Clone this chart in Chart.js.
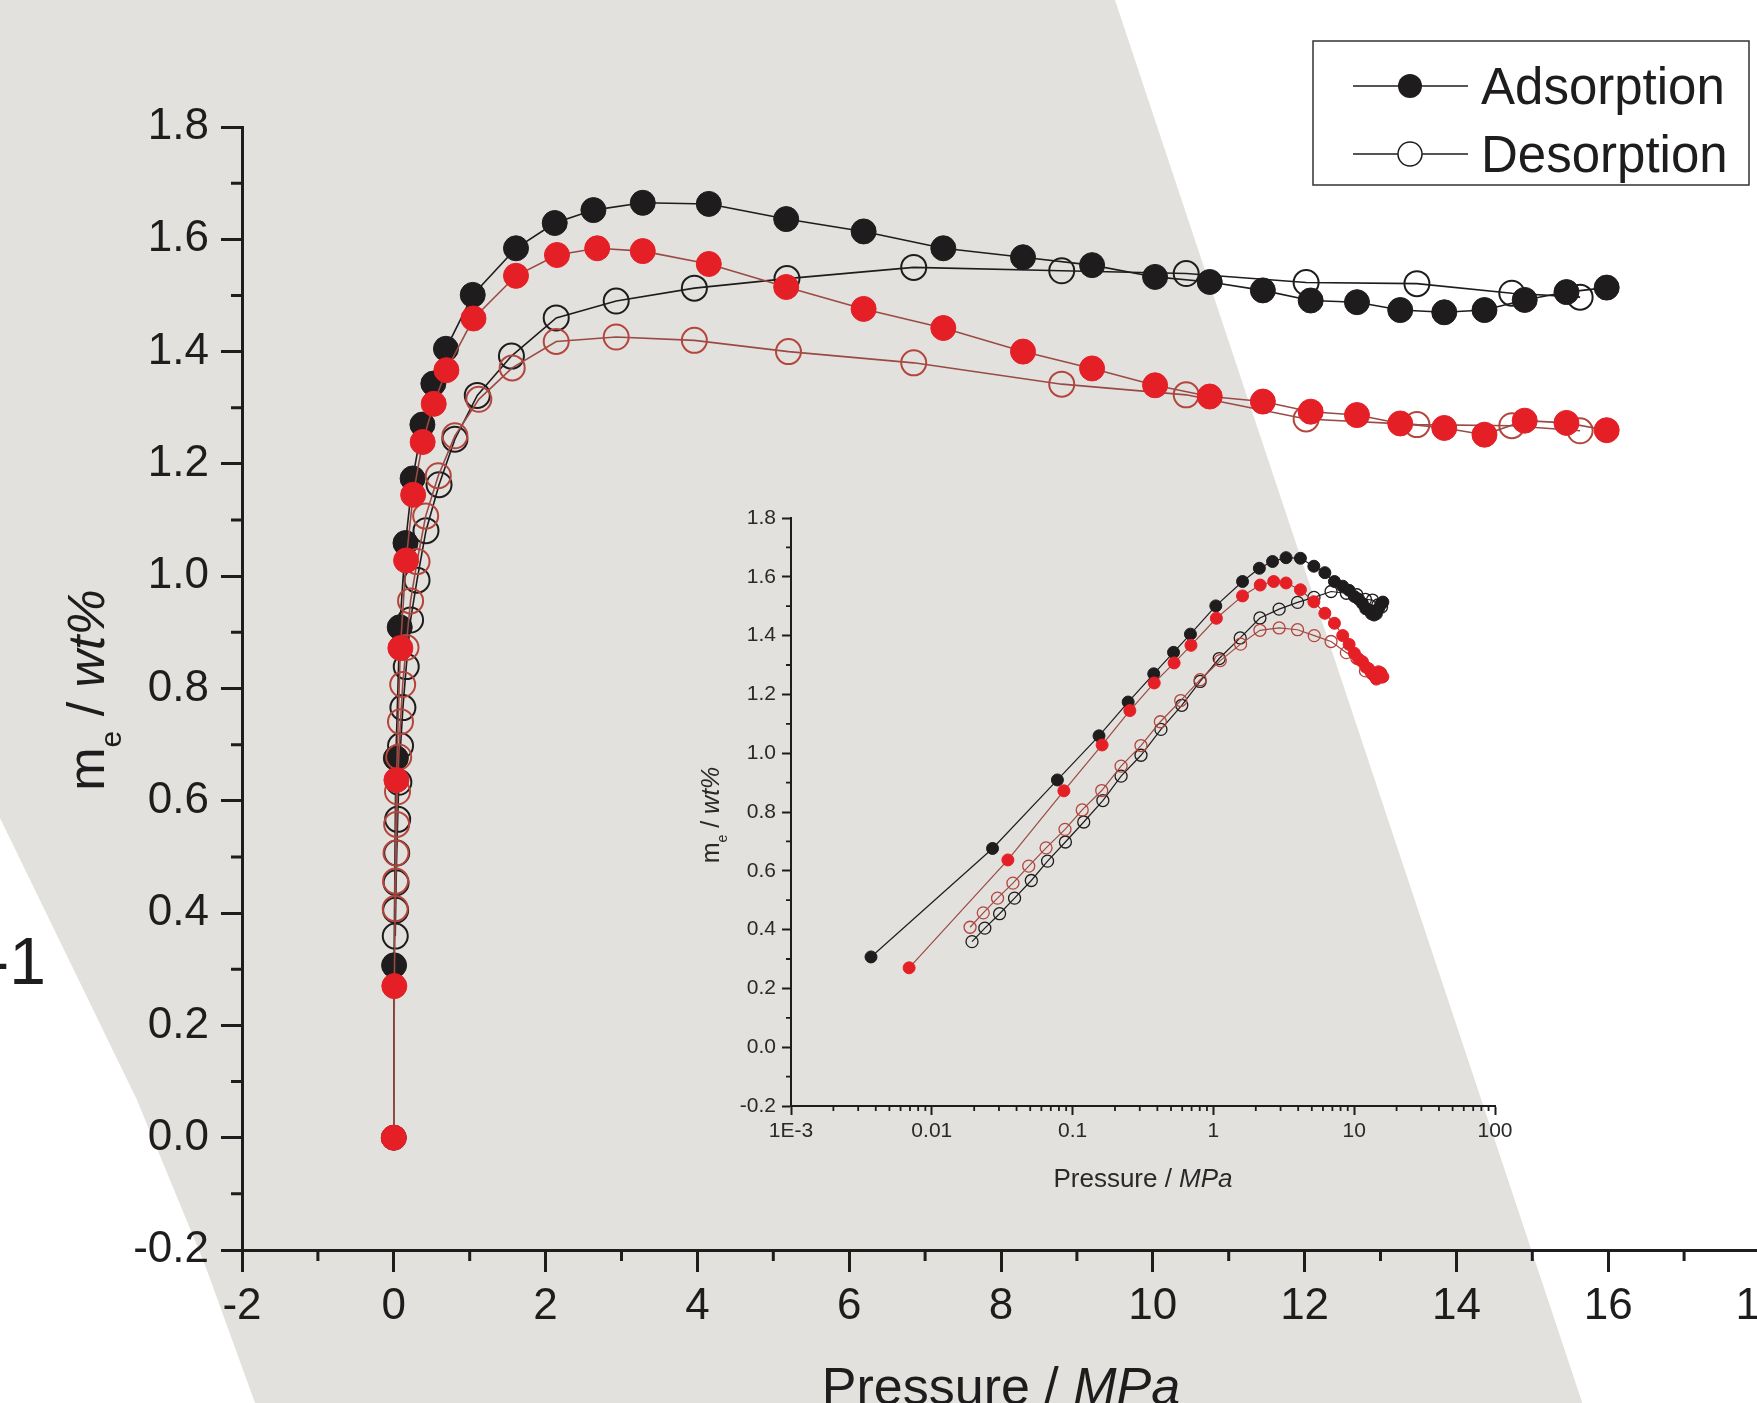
<!DOCTYPE html>
<html lang="en">

<head>
  <meta charset="UTF-8" />
  <title>Adsorption / Desorption</title>
  <script src="https://cdn.jsdelivr.net/npm/chart.js"></script>
  <style>
    html,
    body {
      margin: 0;
      padding: 0;
      overflow: hidden;
      background: #fff;
    }

    body {
      width: 1757px;
      height: 1403px;
      position: relative;
    }

    #mainBox {
      position: absolute;
      left: 0;
      top: 0;
    }

    #insetBox {
      position: absolute;
      left: 640px;
      top: 490px;
    }
  </style>
</head>

<body>
  <div id="mainBox"><canvas id="myChart01" width="1800" height="1450"></canvas></div>
  <div id="insetBox"><canvas id="myChart02" width="900" height="720"></canvas></div>

  <script>
    // ---- data (pressure in MPa, uptake m_e in wt%) ----
    // sample 1 (black)
    const ads1P = [0, 0.0037, 0.027, 0.078, 0.154, 0.248, 0.377, 0.521, 0.687, 1.04, 1.61, 2.12, 2.63, 3.28, 4.15,
      5.17, 6.19, 7.24, 8.29, 9.2, 10.03, 10.75, 11.45, 12.08, 12.69, 13.26, 13.84, 14.37, 14.9, 15.45, 15.98];
    const ads1M = [0, 0.307, 0.676, 0.909, 1.059, 1.174, 1.27, 1.343, 1.405, 1.501, 1.584, 1.629, 1.652, 1.665, 1.663,
      1.636, 1.614, 1.584, 1.568, 1.554, 1.533, 1.524, 1.509, 1.491, 1.488, 1.474, 1.47, 1.474, 1.492, 1.506, 1.514];
    const des1P = [15.63, 14.73, 13.48, 12.02, 10.44, 8.8, 6.85, 5.18, 3.96, 2.93, 2.14, 1.55, 1.1, 0.805, 0.596,
      0.424, 0.306, 0.221, 0.164, 0.12, 0.0889, 0.0664, 0.0509, 0.0387, 0.0303, 0.0238, 0.0193];
    const des1M = [1.497, 1.504, 1.521, 1.523, 1.539, 1.544, 1.55, 1.53, 1.513, 1.49, 1.46, 1.392, 1.322, 1.244, 1.163,
      1.081, 0.993, 0.922, 0.839, 0.766, 0.698, 0.633, 0.567, 0.507, 0.454, 0.405, 0.359];

    // sample 2 (red)
    const ads2P = [0, 0.0069, 0.0347, 0.0867, 0.162, 0.255, 0.38, 0.526, 0.693, 1.05, 1.61, 2.15, 2.68, 3.28, 4.15,
      5.17, 6.19, 7.24, 8.29, 9.2, 10.03, 10.75, 11.45, 12.08, 12.69, 13.26, 13.84, 14.37, 14.9, 15.45, 15.98];
    const ads2M = [0, 0.27, 0.637, 0.872, 1.028, 1.145, 1.239, 1.307, 1.367, 1.459, 1.535, 1.572, 1.584, 1.579, 1.556,
      1.515, 1.476, 1.442, 1.4, 1.37, 1.34, 1.32, 1.311, 1.293, 1.287, 1.272, 1.264, 1.252, 1.277, 1.273, 1.26];
    const des2P = [15.63, 14.73, 13.48, 12.02, 10.44, 8.8, 6.85, 5.2, 3.96, 2.93, 2.14, 1.56, 1.12, 0.805, 0.586,
      0.42, 0.306, 0.221, 0.161, 0.117, 0.0883, 0.0648, 0.0488, 0.0377, 0.0293, 0.0232, 0.0187];
    const des2M = [1.259, 1.268, 1.27, 1.28, 1.323, 1.342, 1.38, 1.4, 1.42, 1.426, 1.418, 1.371, 1.315, 1.25, 1.179,
      1.107, 1.026, 0.956, 0.873, 0.807, 0.741, 0.678, 0.616, 0.558, 0.507, 0.457, 0.408];

    // ---- ticks ----
    const mainXMinor = [-1, 1, 3, 5, 7, 9, 11, 13, 15, 17];
    const mainYMinor = [-0.1, 0.1, 0.3, 0.5, 0.7, 0.9, 1.1, 1.3, 1.5, 1.7];
    const insetXTicks = [0.001, 0.01, 0.1, 1, 10, 100];
    const insetXLabels = ["1E-3", "0.01", "0.1", "1", "10", "100"];
    const insetYMinor = mainYMinor;
    const legendLabels = ["Adsorption", "Desorption"];

    // log minor ticks 2..9 in every decade
    var insetXMinor = [];
    for (let k = 0; k < insetXTicks.length - 1; k++) {
      for (let m = 2; m <= 9; m++) insetXMinor.push(insetXTicks[k] * m);
    }

    const FONT = "'Liberation Sans', Arial, Helvetica, sans-serif";
    const INK = "#1e1c1d";
    const RED = "#e51f26";
    const RED_LINE = "#9a4a44";
    const RED_RING = "#b4453d";
    const PAPER = "#e3e1dd";

    function pts(P, M) {
      return P.map((p, i) => ({ x: p, y: M[i] }));
    }

    function buildDatasets(r, lineW, ringW, logOnly) {
      const keep = (d) => (logOnly ? d.filter((p) => p.x > 0) : d);
      return [
        { label: "Adsorption 2", data: keep(pts(ads2P, ads2M)), borderColor: RED_LINE, pointBackgroundColor: RED, pointBorderColor: RED, pointBorderWidth: 1, order: 0 },
        { label: "Desorption 2", data: keep(pts(des2P, des2M)), borderColor: RED_LINE, pointBackgroundColor: "rgba(0,0,0,0)", pointBorderColor: RED_RING, pointBorderWidth: ringW, order: 1 },
        { label: "Adsorption 1", data: keep(pts(ads1P, ads1M)), borderColor: INK, pointBackgroundColor: INK, pointBorderColor: INK, pointBorderWidth: 1, order: 2 },
        { label: "Desorption 1", data: keep(pts(des1P, des1M)), borderColor: INK, pointBackgroundColor: "rgba(0,0,0,0)", pointBorderColor: INK, pointBorderWidth: ringW, order: 3 },
      ].map((d) =>
        Object.assign({ showLine: true, tension: 0, fill: false, borderWidth: lineW, pointRadius: r, pointHoverRadius: r, backgroundColor: "rgba(0,0,0,0)" }, d)
      );
    }

    // text with italic / subscript parts, centred on x
    function drawRich(ctx, parts, x, y, size) {
      const fontOf = (p) => (p[1] === "italic" ? "italic " : "") + Math.round(p[1] === "sub" ? size * 0.58 : size) + "px " + FONT;
      let total = 0;
      parts.forEach((p) => {
        ctx.font = fontOf(p);
        total += ctx.measureText(p[0]).width;
      });
      let cx = x - total / 2;
      ctx.textAlign = "left";
      ctx.textBaseline = "alphabetic";
      parts.forEach((p) => {
        ctx.font = fontOf(p);
        ctx.fillText(p[0], cx, y + (p[1] === "sub" ? size * 0.33 : 0));
        cx += ctx.measureText(p[0]).width;
      });
    }

    const yTitleParts = [["m", ""], ["e", "sub"], [" / ", ""], ["wt%", "italic"]];
    const xTitleParts = [["Pressure / ", ""], ["MPa", "italic"]];

    // short ticks between the labelled ones
    const minorTicks = {
      id: "minorTicks",
      afterDraw(chart, args, opts) {
        const ctx = chart.ctx;
        const xs = chart.scales.x;
        const ys = chart.scales.y;
        ctx.save();
        ctx.strokeStyle = opts.color;
        ctx.lineWidth = opts.width;
        ctx.beginPath();
        opts.x.forEach((v) => {
          const px = xs.getPixelForValue(v);
          ctx.moveTo(px, xs.top);
          ctx.lineTo(px, xs.top + opts.len);
        });
        opts.y.forEach((v) => {
          const py = ys.getPixelForValue(v);
          ctx.moveTo(ys.right, py);
          ctx.lineTo(ys.right - opts.len, py);
        });
        ctx.stroke();
        ctx.restore();
      },
    };

    // grey paper band behind the main plot
    const paperBg = {
      id: "paperBg",
      beforeDraw(chart) {
        const ctx = chart.ctx;
        ctx.save();
        ctx.fillStyle = "#fff";
        ctx.fillRect(0, 0, chart.width, chart.height);
        ctx.fillStyle = PAPER;
        ctx.beginPath();
        ctx.moveTo(0, 0);
        ctx.lineTo(1115, 0);
        ctx.lineTo(1598, 1450);
        ctx.lineTo(272, 1450);
        ctx.lineTo(255, 1403);
        ctx.lineTo(205, 1265);
        ctx.lineTo(137, 1100);
        ctx.lineTo(0, 818);
        ctx.closePath();
        ctx.fill();
        ctx.restore();
      },
    };

    // titles, legend box and the stray "-1" of the neighbour panel
    const mainDecor = {
      id: "mainDecor",
      afterDraw(chart) {
        const ctx = chart.ctx;
        ctx.save();
        ctx.fillStyle = INK;

        ctx.font = "66px " + FONT;
        ctx.textAlign = "right";
        ctx.textBaseline = "alphabetic";
        ctx.fillText("-1", 46, 984);

        drawRich(ctx, xTitleParts, 1001, 1404, 52);

        ctx.save();
        ctx.translate(104, 690);
        ctx.rotate(-Math.PI / 2);
        drawRich(ctx, yTitleParts, 0, 0, 52);
        ctx.restore();

        // legend
        ctx.fillStyle = "#fff";
        ctx.fillRect(1313, 41, 436, 144);
        ctx.strokeStyle = "#333";
        ctx.lineWidth = 1.5;
        ctx.strokeRect(1313, 41, 436, 144);
        const rows = [86, 154];
        rows.forEach((ry, i) => {
          ctx.strokeStyle = INK;
          ctx.lineWidth = 1.5;
          ctx.beginPath();
          ctx.moveTo(1353, ry);
          ctx.lineTo(1468, ry);
          ctx.stroke();
          ctx.beginPath();
          ctx.arc(1410, ry, 12, 0, Math.PI * 2);
          if (i === 0) {
            ctx.fillStyle = INK;
            ctx.fill();
          } else {
            ctx.fillStyle = "#fff";
            ctx.fill();
            ctx.stroke();
          }
          ctx.fillStyle = INK;
          ctx.font = "51px " + FONT;
          ctx.textAlign = "left";
          ctx.textBaseline = "alphabetic";
          ctx.fillText(legendLabels[i], 1481, ry + 18);
        });
        ctx.restore();
      },
    };

    const insetDecor = {
      id: "insetDecor",
      afterDraw(chart) {
        const ctx = chart.ctx;
        ctx.save();
        ctx.fillStyle = "#2a2829";
        drawRich(ctx, xTitleParts, 503, 697, 26);
        ctx.translate(79, 325);
        ctx.rotate(-Math.PI / 2);
        drawRich(ctx, yTitleParts, 0, 0, 25);
        ctx.restore();
      },
    };

    var mychart01;
    var mychart02;

    function setChart01() {
      const ctx01 = document.getElementById("myChart01");
      mychart01 = new Chart(ctx01, {
        type: "scatter",
        data: { datasets: buildDatasets(12.5, 1.6, 2, false) },
        plugins: [paperBg, minorTicks, mainDecor],
        options: {
          responsive: false,
          animation: false,
          layout: { padding: { left: 0, top: 127, right: 40, bottom: 0 } },
          plugins: {
            legend: { display: false },
            tooltip: { enabled: false },
            minorTicks: { x: mainXMinor, y: mainYMinor, len: 11, width: 3, color: INK },
          },
          scales: {
            x: {
              type: "linear",
              min: -2,
              max: 18,
              afterFit: (s) => { s.height = 200; },
              border: { color: INK, width: 3 },
              grid: { drawOnChartArea: false, tickLength: 22, tickWidth: 3, tickColor: INK },
              ticks: { stepSize: 2, padding: 8, color: INK, font: { family: FONT, size: 44 }, callback: (v) => String(v) },
            },
            y: {
              min: -0.2,
              max: 1.8,
              afterFit: (s) => { s.width = 242; },
              border: { color: INK, width: 3 },
              grid: { drawOnChartArea: false, tickLength: 21, tickWidth: 3, tickColor: INK },
              ticks: { stepSize: 0.2, padding: 12, color: INK, font: { family: FONT, size: 44 }, callback: (v) => Number(v).toFixed(1) },
            },
          },
        },
      });
    }

    function setChart02() {
      const ctx02 = document.getElementById("myChart02");
      mychart02 = new Chart(ctx02, {
        type: "scatter",
        data: { datasets: buildDatasets(6, 1.2, 1.3, true) },
        plugins: [minorTicks, insetDecor],
        options: {
          responsive: false,
          animation: false,
          layout: { padding: { left: 0, top: 28, right: 45, bottom: 0 } },
          plugins: {
            legend: { display: false },
            tooltip: { enabled: false },
            minorTicks: { x: insetXMinor, y: insetYMinor, len: 5, width: 1.8, color: INK },
          },
          scales: {
            x: {
              type: "logarithmic",
              min: 0.001,
              max: 100,
              afterFit: (s) => { s.height = 104; },
              afterBuildTicks: (s) => { s.ticks = insetXTicks.map((v) => ({ value: v })); },
              border: { color: INK, width: 2 },
              grid: { drawOnChartArea: false, tickLength: 9, tickWidth: 2, tickColor: INK },
              ticks: { autoSkip: false, maxRotation: 0, padding: 4, color: "#2a2829", font: { family: FONT, size: 21 }, callback: (v, i) => insetXLabels[i] },
            },
            y: {
              min: -0.2,
              max: 1.8,
              afterFit: (s) => { s.width = 151; },
              border: { color: INK, width: 2 },
              grid: { drawOnChartArea: false, tickLength: 9, tickWidth: 2, tickColor: INK },
              ticks: { stepSize: 0.2, padding: 6, color: "#2a2829", font: { family: FONT, size: 21 }, callback: (v) => Number(v).toFixed(1) },
            },
          },
        },
      });
    }

    setChart01();
    setChart02();
  </script>
</body>

</html>
